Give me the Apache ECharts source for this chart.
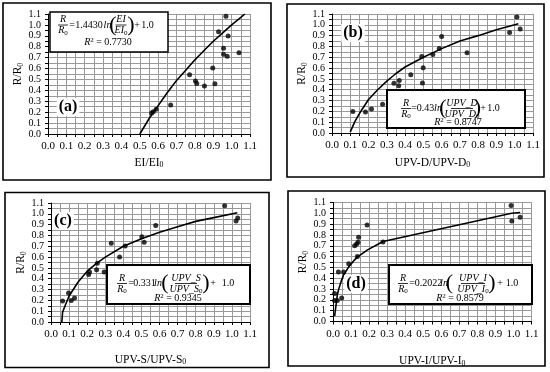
<!DOCTYPE html>
<html><head><meta charset="utf-8">
<script src="https://cdn.jsdelivr.net/npm/echarts@6/dist/echarts.min.js"></script>
<style>html,body{margin:0;padding:0;background:#fff}#c{width:550px;height:372px}</style>
</head><body><div id="c"></div>
<script>
// ---- data ----
const panelLabels = ['(a)', '(b)', '(c)', '(d)'];
const xTitles = ['EI/EI', 'UPV-D/UPV-D', 'UPV-S/UPV-S', 'UPV-I/UPV-I'];
const yTitle = 'R/R';
const tickValues = [0.0, 0.1, 0.2, 0.3, 0.4, 0.5, 0.6, 0.7, 0.8, 0.9, 1.0, 1.1];

const aX = [0.564, 0.573, 0.589, 0.668, 0.771, 0.803, 0.81, 0.852, 0.897, 0.909, 0.929, 0.956, 0.956, 0.969, 0.976, 0.981, 1.04];
const aY = [0.192, 0.205, 0.226, 0.266, 0.544, 0.486, 0.464, 0.44, 0.605, 0.461, 0.938, 0.785, 0.73, 1.08, 0.712, 0.898, 0.745];
const bX = [0.114, 0.183, 0.216, 0.277, 0.339, 0.365, 0.368, 0.431, 0.491, 0.499, 0.495, 0.552, 0.587, 0.6, 0.739, 0.972, 1.012, 1.03];
const bY = [0.198, 0.195, 0.222, 0.266, 0.46, 0.436, 0.485, 0.538, 0.708, 0.603, 0.463, 0.726, 0.782, 0.893, 0.742, 0.93, 1.072, 0.961];
const cX = [0.064, 0.097, 0.112, 0.13, 0.208, 0.213, 0.252, 0.256, 0.294, 0.333, 0.379, 0.41, 0.502, 0.515, 0.579, 0.96, 1.023, 1.032];
const cY = [0.195, 0.267, 0.198, 0.222, 0.44, 0.462, 0.483, 0.542, 0.462, 0.728, 0.601, 0.703, 0.787, 0.738, 0.892, 1.075, 0.933, 0.961];
const dX = [0.009, 0.009, 0.024, 0.048, 0.03, 0.059, 0.087, 0.135, 0.12, 0.131, 0.139, 0.142, 0.189, 0.277, 0.987, 0.991, 1.037];
const dY = [0.259, 0.193, 0.193, 0.218, 0.458, 0.458, 0.533, 0.601, 0.701, 0.717, 0.732, 0.779, 0.891, 0.735, 1.072, 0.929, 0.963];

// fitted curves
const aFitX = [0.5, 0.55, 0.6, 0.65, 0.7, 0.75, 0.8, 0.85, 0.9, 0.95, 1.0, 1.05, 1.072];
const aFitY = [0.0, 0.14, 0.26, 0.38, 0.49, 0.585, 0.68, 0.765, 0.85, 0.925, 1.0, 1.07, 1.1];
const bFitX = [0.1, 0.125, 0.15, 0.2, 0.25, 0.3, 0.35, 0.4, 0.5, 0.6, 0.7, 0.8, 0.9, 1.02];
const bFitY = [0.01, 0.105, 0.18, 0.31, 0.40, 0.48, 0.55, 0.61, 0.70, 0.78, 0.85, 0.90, 0.955, 1.01];
const cFitX = [0.06, 0.064, 0.08, 0.1, 0.15, 0.2, 0.25, 0.3, 0.4, 0.5, 0.6, 0.7, 0.8, 0.9, 1.03];
const cFitY = [0.0, 0.09, 0.16, 0.24, 0.37, 0.47, 0.54, 0.60, 0.70, 0.77, 0.83, 0.88, 0.93, 0.965, 1.01];
const dFitX = [0.009, 0.024, 0.03, 0.048, 0.059, 0.087, 0.12, 0.135, 0.142, 0.189, 0.277, 0.99, 1.037];
const dFitY = [0.05, 0.245, 0.29, 0.385, 0.43, 0.505, 0.57, 0.595, 0.605, 0.66, 0.74, 1.0, 1.007];

const coeffs = ['1.4430', '0.43', '0.331', '0.2022'];
const fracNum = ['EI', 'UPV_D', 'UPV_S', 'UPV_I'];
const fracDen = ['EI', 'UPV_D', 'UPV_S', 'UPV_I'];
const r2Text = ['0.7730', '0.8747', '0.9345', '0.8579'];

// ---- layout ----
const FONT = 'Liberation Serif';
const grids = [
  {left: 48, top: 14, width: 202, height: 120},
  {left: 332, top: 14, width: 201, height: 119},
  {left: 51, top: 203, width: 199, height: 119},
  {left: 333, top: 202.5, width: 198.5, height: 119}
];
const xGaps = [22, 23, 31, 33];
const yGaps = [19, 21, 23, 23];
const frames = [[3, 3, 268, 177], [287, 4, 257, 173], [5, 192.5, 264, 175], [288, 191, 257, 175]];
const labelPos = [[68, 107], [353, 33], [63, 221], [356, 284]];

const pts = [[aX, aY], [bX, bY], [cX, cY], [dX, dY]];
const fits = [[aFitX, aFitY], [bFitX, bFitY], [cFitX, cFitY], [dFitX, dFitY]];
const zip = (xs, ys) => xs.map((x, i) => [x, ys[i]]);

const subRich = (size) => ({
  n: {fontFamily: FONT, fontSize: size, lineHeight: 13, color: '#000'},
  s: {fontFamily: FONT, fontSize: size * 0.68, lineHeight: 5, verticalAlign: 'bottom', color: '#000'}
});

const xAxes = [], yAxes = [], series = [];
for (let i = 0; i < 4; i++) {
  const common = {
    gridIndex: i, type: 'value', min: tickValues[0], max: tickValues[tickValues.length - 1], interval: 0.1,
    axisLine: {onZero: false, lineStyle: {color: '#000', width: 1}},
    axisTick: {show: true, length: 3, lineStyle: {color: '#000'}},
    minorTick: {show: true, splitNumber: 2, length: 3, lineStyle: {color: '#000'}},
    splitLine: {show: true, lineStyle: {color: '#999', width: 1}},
    minorSplitLine: {show: true, lineStyle: {color: '#999', width: 1}},
    axisLabel: {formatter: v => v.toFixed(1), fontFamily: FONT, fontSize: 11, color: '#000', margin: 7},
    nameLocation: 'middle'
  };
  xAxes.push(Object.assign({}, common, {
    name: '{n|' + xTitles[i] + '}{s|0}', nameGap: xGaps[i],
    nameTextStyle: {rich: subRich(11.5)}
  }));
  yAxes.push(Object.assign({}, common, {
    axisLabel: Object.assign({}, common.axisLabel, {fontSize: 10, lineHeight: 6}),
    name: '{n|' + yTitle + '}{s|0}', nameGap: yGaps[i], nameRotate: 90,
    nameTextStyle: {rich: subRich(11.5)}
  }));
  series.push({
    type: 'line', xAxisIndex: i, yAxisIndex: i, data: zip(fits[i][0], fits[i][1]),
    showSymbol: false, smooth: false, lineStyle: {color: '#000', width: 1.6}, z: 3, silent: true
  });
  series.push({
    type: 'scatter', xAxisIndex: i, yAxisIndex: i, data: zip(pts[i][0], pts[i][1]),
    symbol: 'circle', symbolSize: 5, itemStyle: {color: '#000'}, z: 4, silent: true
  });
}

// ---- equation boxes ----
const eqSpecs = [
  {box: [50, 12, 118, 40], lw: 1.5, rR: 19.3, rM: 25, rD: 30.7, r2: 42.3, R: 63, eq: 72, co: 89, ln: 107.5, lp: 113, fr: 121, hw: 5.5, rp: 131, pl: 137, one: 147.5, r2x: 108},
  {box: [387, 90, 138, 38], lw: 2, rR: 103, rM: 108.5, rD: 114, r2: 122.3, R: 406, eq: 414, co: 425.5, ln: 438, lp: 443, fr: 462, hw: 11, rp: 477.5, pl: 483, one: 493.5, r2x: 458},
  {box: [107, 265, 143, 39], lw: 2, rR: 278, rM: 283.5, rD: 289, r2: 298, R: 122, eq: 131, co: 144.5, ln: 158, lp: 165, fr: 186, hw: 11, rp: 206, pl: 213, one: 228, r2x: 178},
  {box: [389, 265, 143, 39], lw: 2, rR: 278, rM: 283.5, rD: 289, r2: 298, R: 403, eq: 412, co: 428.5, ln: 444, lp: 449.5, fr: 473, hw: 12, rp: 492, pl: 500, one: 512, r2x: 460}
];
const EQ = 10;
const txt = (x, y, text, opt) => ({
  type: 'text', x: x, y: y, z: 101,
  style: Object.assign({text: text, align: 'center', verticalAlign: 'middle', fontFamily: FONT, fontSize: EQ, fill: '#000'}, opt || {})
});
const italSub = {
  v: {fontFamily: FONT, fontSize: EQ, fontStyle: 'italic', lineHeight: 11, color: '#000'},
  s: {fontFamily: FONT, fontSize: 7, lineHeight: 5, verticalAlign: 'bottom', color: '#000'}
};
const graphic = [];
frames.forEach(f => graphic.push({type: 'rect', z: 100, shape: {x: f[0], y: f[1], width: f[2], height: f[3]}, style: {fill: 'none', stroke: '#000', lineWidth: 1.6}}));
eqSpecs.forEach((e, i) => {
  graphic.push({type: 'rect', z: 100, shape: {x: e.box[0], y: e.box[1], width: e.box[2], height: e.box[3]}, style: {fill: '#fff', stroke: '#000', lineWidth: e.lw}});
  graphic.push(txt(e.R, e.rR, 'R', {fontStyle: 'italic'}));
  graphic.push({type: 'line', z: 101, shape: {x1: e.R - 5, y1: e.rM, x2: e.R + 5, y2: e.rM}, style: {stroke: '#000', lineWidth: 0.8}});
  graphic.push(txt(e.R, e.rD, '{v|R}{s|0}', {rich: italSub}));
  graphic.push(txt(e.eq, e.rM, '='));
  graphic.push(txt(e.co, e.rM, coeffs[i]));
  graphic.push(txt(e.ln, e.rM, 'ln', {fontStyle: 'italic'}));
  graphic.push(txt(e.lp, e.rM, '(', {fontSize: 22}));
  graphic.push(txt(e.fr, e.rR, fracNum[i], {fontStyle: 'italic'}));
  graphic.push({type: 'line', z: 101, shape: {x1: e.fr - e.hw, y1: e.rM, x2: e.fr + e.hw, y2: e.rM}, style: {stroke: '#000', lineWidth: 0.8}});
  graphic.push(txt(e.fr, e.rD, '{v|' + fracDen[i] + '}{s|0}', {rich: italSub}));
  graphic.push(txt(e.rp, e.rM, ')', {fontSize: 22}));
  graphic.push(txt(e.pl, e.rM, '+'));
  graphic.push(txt(e.one, e.rM, '1.0'));
  graphic.push(txt(e.r2x, e.r2, '{v|R}{p|2}{t| = ' + r2Text[i] + '}', {rich: {
    v: {fontFamily: FONT, fontSize: EQ, fontStyle: 'italic', lineHeight: 11, color: '#000'},
    p: {fontFamily: FONT, fontSize: 7, lineHeight: 11, verticalAlign: 'top', padding: [0, 0, 4, 0], color: '#000'},
    t: {fontFamily: FONT, fontSize: EQ, lineHeight: 11, color: '#000'}
  }}));
});
labelPos.forEach((p, i) => graphic.push({
  type: 'text', x: p[0], y: p[1], z: 102,
  style: {text: panelLabels[i], align: 'center', verticalAlign: 'middle', fontFamily: FONT, fontSize: 16, fontWeight: 'bold', fill: '#000', backgroundColor: '#fff', padding: [1, 2]}
}));

const chart = echarts.init(document.getElementById('c'), null, {renderer: 'canvas'});
chart.setOption({
  animation: false,
  backgroundColor: '#fff',
  grid: grids.map(g => Object.assign({containLabel: false, outerBoundsMode: 'none'}, g)),
  xAxis: xAxes,
  yAxis: yAxes,
  series: series,
  graphic: graphic
});
</script>
</body></html>
